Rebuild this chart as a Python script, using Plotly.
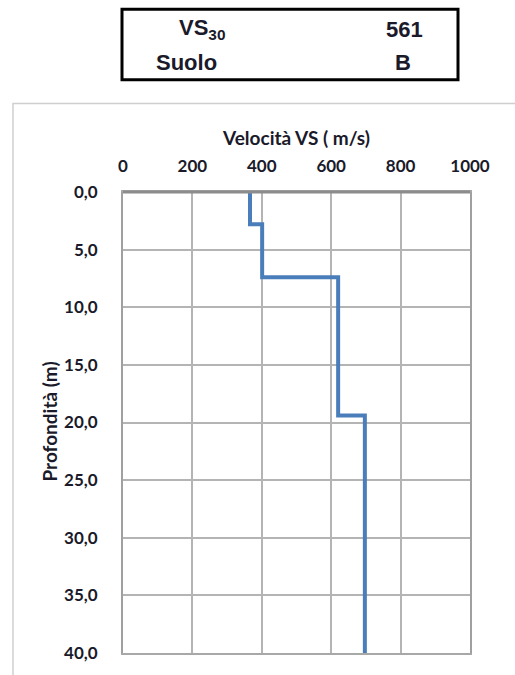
import plotly.graph_objects as go

# Data
layer_top_depth = [0.0, 2.8, 7.4, 19.4]   # m
layer_vs = [366, 401, 620, 697]           # m/s
max_depth = 40.0
vs30_label = "VS<sub>30</sub>"
vs30_value = "561"
soil_label = "Suolo"
soil_class = "B"
x_ticks = [0, 200, 400, 600, 800, 1000]
y_ticks = [0, 5, 10, 15, 20, 25, 30, 35, 40]

# Build step profile from layer data
xs, ys = [], []
bottoms = layer_top_depth[1:] + [max_depth]
for top, bot, v in zip(layer_top_depth, bottoms, layer_vs):
    xs += [v, v]
    ys += [top, bot]

W, H = 515, 675
L, R, T, B = 123, 470, 192, 656

def px(x):
    return (x - L) / (R - L)

def py(y):
    return (B - y) / (B - T)

fig = go.Figure()
fig.add_trace(go.Scatter(x=xs, y=ys, mode="lines",
                         line=dict(color="#4A7EBB", width=4),
                         showlegend=False, hoverinfo="skip"))

tickfont = dict(family="Lato", size=17, color="#1a1a2a", weight="bold")

fig.update_layout(
    width=W, height=H,
    margin=dict(l=L, r=W - R, t=T, b=H - B),
    paper_bgcolor="white", plot_bgcolor="white",
    separators=",.",
    xaxis=dict(side="top", range=[0, 1000], tickvals=x_ticks,
               showgrid=True, gridcolor="#b4b4b4", gridwidth=1.5,
               showline=True, linecolor="#a8a8a8", linewidth=2, mirror=True,
               zeroline=False, ticks="", tickfont=tickfont,
               ticklabelstandoff=11, fixedrange=True),
    yaxis=dict(range=[max_depth, 0], tickvals=y_ticks, tickformat=".1f",
               showgrid=True, gridcolor="#b4b4b4", gridwidth=1.5,
               showline=True, linecolor="#a0a0a0", linewidth=2, mirror=True,
               zeroline=False, ticks="", tickfont=tickfont,
               ticklabelstandoff=20, fixedrange=True),
)

shapes = [
    # outer chart frame
    dict(type="rect", xref="paper", yref="paper",
         x0=px(13), x1=px(W + 20), y0=py(H + 20), y1=py(103),
         line=dict(color="#cfcfcf", width=1.5), layer="below"),
    # thicker top axis line
    dict(type="line", xref="paper", yref="paper",
         x0=0, x1=1, y0=1, y1=1, line=dict(color="#8c8c8c", width=3)),
    # summary table box
    dict(type="rect", xref="paper", yref="paper",
         x0=px(122), x1=px(458), y0=py(79), y1=py(8),
         line=dict(color="black", width=3)),
]
fig.update_layout(shapes=shapes)

tfont = dict(family="Liberation Sans", size=22, color="#1a1a2a", weight="bold")
ann = [
    dict(text=vs30_label, x=px(177), y=py(28), xanchor="left", yanchor="middle"),
    dict(text=vs30_value, x=px(404), y=py(28), xanchor="center", yanchor="middle"),
    dict(text=soil_label, x=px(154), y=py(62), xanchor="left", yanchor="middle"),
    dict(text=soil_class, x=px(403), y=py(62), xanchor="center", yanchor="middle"),
]
for a in ann:
    a.update(xref="paper", yref="paper", showarrow=False, font=tfont)

afont = dict(family="Lato", size=19, color="#1a1a2a", weight="bold")
ann.append(dict(text="Velocità VS ( m/s)", xref="paper", yref="paper",
                x=px(296), y=py(137), xanchor="center", yanchor="middle",
                showarrow=False, font=afont))
ann.append(dict(text="Profondità (m)", xref="paper", yref="paper",
                x=px(50), y=py(423), xanchor="center", yanchor="middle",
                textangle=-90, showarrow=False, font=afont))
fig.update_layout(annotations=ann)

fig.write_html("out.html")
